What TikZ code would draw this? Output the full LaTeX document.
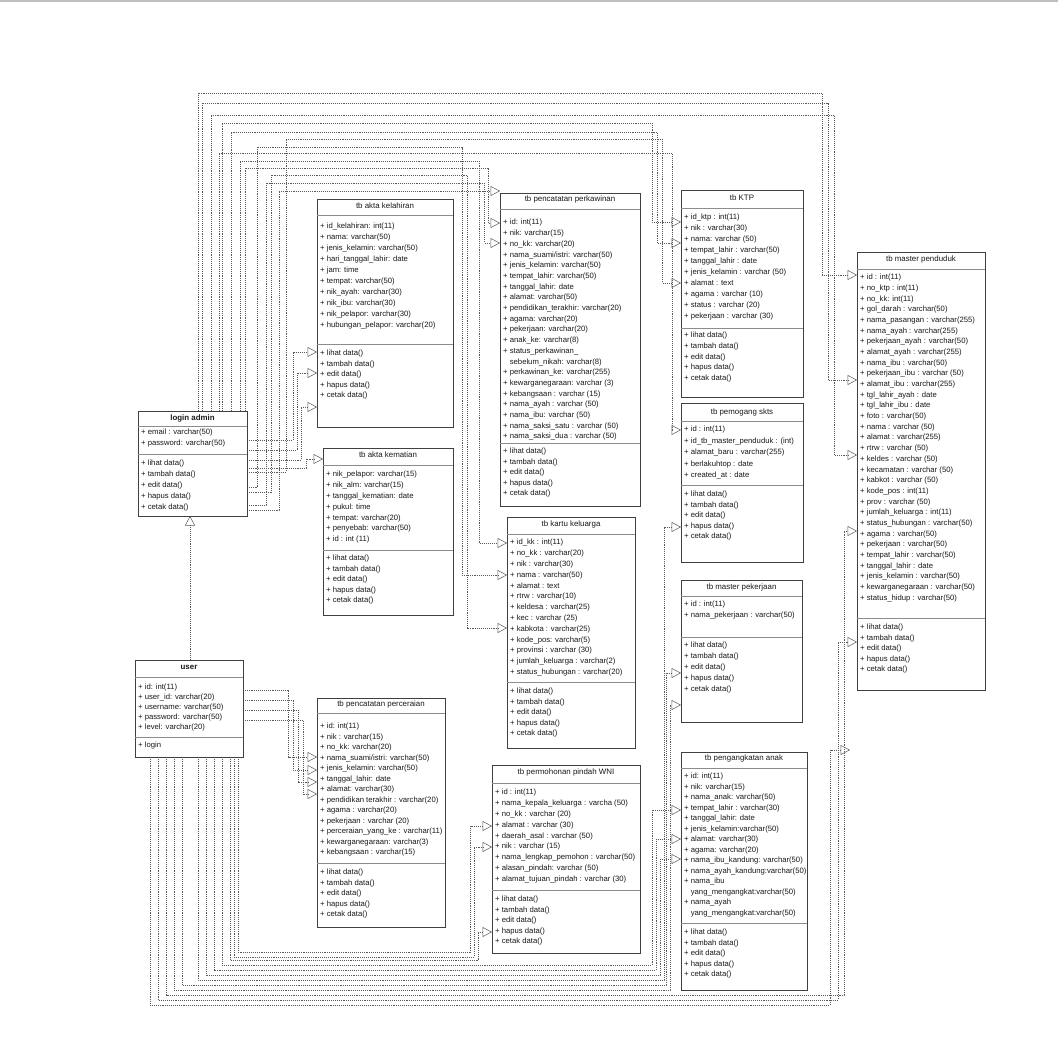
\documentclass[tikz,border=0pt]{standalone}
\usepackage{fontspec}
\setmainfont{Liberation Sans}
\usetikzlibrary{arrows.meta,backgrounds}
\tikzset{
 box/.style={draw=black!75, line width=0.9pt, fill=white, anchor=north west, inner sep=0pt, outer sep=0pt},
 sepl/.style={draw=black!45, line width=0.6pt},
 txt/.style={font=\fontsize{7.7}{9}\selectfont, anchor=west, inner sep=0pt, text height=5.5pt, text depth=1.6pt, text=black!90},
 ttl/.style={font=\fontsize{7.9}{9}\selectfont, inner sep=0pt, text height=5.5pt, text depth=1.6pt, text=black!90},
 conn/.style={draw=black!65, line width=0.5pt, dash pattern=on 1.1pt off 1pt},
 tri/.style={-{Triangle[open,length=9.5pt,width=10pt]}}
}
\newcommand\cls[9]{%
 \node[box, minimum width={(#4-#2)*1pt}, minimum height={(#5-#3)*1pt}] (#1) at (#2,#3) {};
 \node[ttl] at ({(#2+#4)/2},#7) {#6};
 \draw[sepl] (#2,#8) -- (#4,#8);
 \draw[sepl] (#2,#9) -- (#4,#9);}
\newcommand\rows[4]{\foreach \t [count=\i from 0] in {#4} {\node[txt] at (#1,{#2+\i*#3}) {\t};}}
\newcommand\meths[3]{\rows{#1}{#2}{#3}{+ lihat data(), + tambah data(), + edit data(), + hapus data(), + cetak data()}}
\begin{document}
\begin{tikzpicture}[x=1pt,y=-1pt]
\useasboundingbox (0,0) rectangle (1058,1056);
\draw[black!25, line width=1.5pt] (0,1) -- (1058,1);

% ---------- classes ----------
\cls{akl}{317}{199}{453}{427}{tb akta kelahiran}{207}{215}{344}
\rows{320}{227}{10.9}{+ id\_kelahiran: int(11), + nama: varchar(50), + jenis\_kelamin: varchar(50), + hari\_tanggal\_lahir: date, + jam: time, + tempat: varchar(50), + nik\_ayah: varchar(30), + nik\_ibu: varchar(30), + nik\_pelapor: varchar(30), + hubungan\_pelapor: varchar(20)}
\meths{320}{354}{10.5}

\cls{pkw}{500}{193}{640}{506}{tb pencatatan perkawinan}{200}{209}{443}
\rows{503}{223}{10.7}{+ id: int(11), + nik: varchar(15), + no\_kk: varchar(20), + nama\_suami/istri: varchar(50), + jenis\_kelamin: varchar(50), + tempat\_lahir: varchar(50), + tanggal\_lahir: date, + alamat: varchar(50), + pendidikan\_terakhir: varchar(20), + agama: varchar(20), + pekerjaan: varchar(20), + anak\_ke: varchar(8), + status\_perkawinan\_, \phantom{+ }sebelum\_nikah: varchar(8), + perkawinan\_ke: varchar(255), + kewarganegaraan: varchar (3), + kebangsaan : varchar (15), + nama\_ayah : varchar (50), + nama\_ibu: varchar (50), + nama\_saksi\_satu : varchar (50), + nama\_saksi\_dua : varchar (50)}
\meths{503}{452}{10.5}

\cls{ktp}{681}{190}{803}{397}{tb KTP}{199}{208}{328}
\rows{684}{218}{11}{+ id\_ktp : int(11), + nik : varchar(30), + nama: varchar (50), + tempat\_lahir : varchar(50), + tanggal\_lahir : date, + jenis\_kelamin : varchar (50), + alamat : text, + agama : varchar (10), + status : varchar (20), + pekerjaan : varchar (30)}
\meths{684}{336}{10.6}

\cls{skts}{681}{403}{803}{562}{tb pemogang skts}{413}{421}{485}
\rows{684}{430}{11.5}{+ id : int(11), + id\_tb\_master\_penduduk : (int), + alamat\_baru : varchar(255), + berlakuhtop : date, + created\_at : date}
\meths{684}{495}{10.5}

\cls{mpk}{681}{580}{802}{722}{tb master pekerjaan}{588}{596}{637}
\rows{684}{605}{10.5}{+ id : int(11), + nama\_pekerjaan : varchar(50)}
\meths{684}{646}{11}

\cls{mpd}{857}{252}{985}{690}{tb master penduduk}{260}{269}{618}
\rows{860}{278}{10.67}{+ id : int(11), + no\_ktp : int(11), + no\_kk: int(11), + gol\_darah : varchar(50), + nama\_pasangan : varchar(255), + nama\_ayah : varchar(255), + pekerjaan\_ayah : varchar(50), + alamat\_ayah : varchar(255), + nama\_ibu : varchar(50), + pekerjaan\_ibu : varchar (50), + alamat\_ibu : varchar(255), + tgl\_lahir\_ayah : date, + tgl\_lahir\_ibu : date, + foto : varchar(50), + nama : varchar (50), + alamat : varchar(255), + rtrw : varchar (50), + keldes : varchar (50), + kecamatan : varchar (50), + kabkot : varchar (50), + kode\_pos : int(11), + prov : varchar (50), + jumlah\_keluarga : int(11), + status\_hubungan : varchar(50), + agama : varchar(50), + pekerjaan : varchar(50), + tempat\_lahir : varchar(50), + tanggal\_lahir : date, + jenis\_kelamin : varchar(50), + kewarganegaraan : varchar(50), + status\_hidup : varchar(50)}
\meths{860}{628}{10.5}

\cls{la}{138}{411}{247}{516}{\bfseries login admin}{419}{426}{454}
\rows{141}{433}{10.5}{+ email : varchar(50), + password: varchar(50)}
\meths{141}{464}{10.8}

\cls{us}{135}{660}{243}{757}{\bfseries user}{668}{677}{737}
\rows{138}{688}{10}{+ id: int(11), + user\_id: varchar(20), + username: varchar(50), + password: varchar(50), + level: varchar(20)}
\rows{138}{746}{10}{+ login}

\cls{akm}{323}{448}{453}{615}{tb akta kematian}{456}{465}{550}
\rows{326}{475}{10.8}{+ nik\_pelapor: varchar(15), + nik\_alm: varchar(15), + tanggal\_kematian: date, + pukul: time, + tempat: varchar(20), + penyebab: varchar(50), + id : int (11)}
\meths{326}{559}{10.5}

\cls{kk}{507}{517}{635}{748}{tb kartu keluarga}{525}{534}{682}
\rows{510}{543}{10.8}{+ id\_kk : int(11), + no\_kk : varchar(20), + nik : varchar(30), + nama : varchar(50), + alamat : text, + rtrw : varchar(10), + keldesa : varchar(25), + kec : varchar (25), + kabkota : varchar(25), + kode\_pos: varchar(5), + provinsi : varchar (30), + jumlah\_keluarga : varchar(2), + status\_hubungan : varchar(20)}
\meths{510}{692}{10.5}

\cls{pcr}{317}{698}{445}{927}{tb pencatatan perceraian}{705}{713}{863}
\rows{320}{727}{10.5}{+ id: int(11), + nik : varchar(15), + no\_kk: varchar(20), + nama\_suami/istri: varchar(50), + jenis\_kelamin: varchar(50), + tanggal\_lahir: date, + alamat: varchar(30), + pendidikan terakhir : varchar(20), + agama : varchar(20), + pekerjaan : varchar (20), + perceraian\_yang\_ke : varchar(11), + kewarganegaraan: varchar(3), + kebangsaan : varchar(15)}
\meths{320}{873}{10.5}

\cls{pwni}{492}{765}{640}{953}{tb permohonan pindah WNI}{773}{783}{890}
\rows{495}{793}{10.8}{+ id : int(11), + nama\_kepala\_keluarga : varcha (50), + no\_kk : varchar (20), + alamat : varchar (30), + daerah\_asal : varchar (50), + nik : varchar (15), + nama\_lengkap\_pemohon : varchar(50), + alasan\_pindah: varchar (50), + alamat\_tujuan\_pindah : varchar (30)}
\meths{495}{900}{10.5}

\cls{pga}{681}{752}{807}{990}{tb pengangkatan anak}{759}{768}{923}
\rows{684}{777}{10.5}{+ id: int(11), + nik: varchar(15), + nama\_anak: varchar(50), + tempat\_lahir : varchar(30), + tanggal\_lahir: date, + jenis\_kelamin:varchar(50), + alamat: varchar(30), + agama: varchar(20), + nama\_ibu\_kandung: varchar(50), + nama\_ayah\_kandung:varchar(50), + nama\_ibu, \phantom{+ }yang\_mengangkat:varchar(50), + nama\_ayah, \phantom{+ }yang\_mengangkat:varchar(50)}
\meths{684}{933}{10.5}

% ---------- arrow end points ----------
\coordinate (pkw1) at ([yshift=2pt]pkw.north west);
\coordinate (pkw2) at ([yshift=-30pt]pkw.north west);
\coordinate (pkw3) at ([yshift=-50pt]pkw.north west);
\coordinate (akl1) at ([yshift=-153pt]akl.north west);
\coordinate (akl2) at ([yshift=-174pt]akl.north west);
\coordinate (akl3) at ([yshift=-208pt]akl.north west);
\coordinate (akm1) at ([yshift=-11pt]akm.north west);
\coordinate (ktp1) at ([yshift=-32pt]ktp.north west);
\coordinate (ktp2) at ([yshift=-53pt]ktp.north west);
\coordinate (ktp3) at ([yshift=-93pt]ktp.north west);
\coordinate (skts1) at ([yshift=-27pt]skts.north west);
\coordinate (skts2) at ([yshift=-124pt]skts.north west);
\coordinate (mpk1) at ([yshift=-93pt]mpk.north west);
\coordinate (mpk2) at ([yshift=-125pt]mpk.north west);
\coordinate (mpd1) at ([yshift=-23pt]mpd.north west);
\coordinate (mpd2) at ([yshift=-128pt]mpd.north west);
\coordinate (mpd3) at ([yshift=-203pt]mpd.north west);
\coordinate (mpd4) at ([yshift=-279pt]mpd.north west);
\coordinate (mpd5) at ([yshift=-390pt]mpd.north west);
\coordinate (kk1) at ([yshift=-26pt]kk.north west);
\coordinate (kk2) at ([yshift=-58pt]kk.north west);
\coordinate (kk3) at ([yshift=-111pt]kk.north west);
\coordinate (pcr1) at ([yshift=-59pt]pcr.north west);
\coordinate (pcr2) at ([yshift=-72pt]pcr.north west);
\coordinate (pcr3) at ([yshift=-84pt]pcr.north west);
\coordinate (pcr4) at ([yshift=-96pt]pcr.north west);
\coordinate (pwni1) at ([yshift=-61pt]pwni.north west);
\coordinate (pwni2) at ([yshift=-82pt]pwni.north west);
\coordinate (pwni3) at ([yshift=-167pt]pwni.north west);
\coordinate (pga1) at ([yshift=-58pt]pga.north west);
\coordinate (pga2) at ([yshift=-87pt]pga.north west);
\coordinate (pga3) at ([yshift=-107pt]pga.north west);
\coordinate (free) at (850,750);

% ---------- connectors ----------
\begin{scope}[on background layer]
\fill[white] (0,3) rectangle (1058,1056);
% from login admin, top
\draw[conn,tri] ([xshift=60pt]la.north west) |- (822,93) |- (mpd1);
\draw[conn,tri] ([xshift=64pt]la.north west) |- (828,103) |- (mpd2);
\draw[conn,tri] ([xshift=73pt]la.north west) |- (834,115) |- (mpd3);
\draw[conn,tri] ([xshift=84pt]la.north west) |- (652,123) |- (ktp1);
\draw[conn,tri] ([xshift=93pt]la.north west) |- (657,132) |- (ktp2);
\draw[conn,tri] ([xshift=81pt]la.north west) |- (672,153) |- (skts1);
\draw[conn,tri] ([xshift=102pt]la.north west) |- (479,161) |- (kk1);
\draw[conn,tri] ([xshift=107pt]la.north west) |- (488,168) |- (pkw2);
% from login admin, right side
\draw[conn,tri] ([yshift=-61pt]la.north east) -| (286,139) -- (662,139) |- (ktp3);
\draw[conn,tri] ([yshift=-76pt]la.north east) -| (257,147) -- (462,147) |- (kk2);
\draw[conn,tri] ([yshift=-81pt]la.north east) -| (271,175) -- (467,175) |- (kk3);
\draw[conn,tri] ([yshift=-94pt]la.north east) -| (266,183) -- (484,183) |- (pkw3);
\draw[conn,tri] ([yshift=-99pt]la.north east) -| (279,191) -- (pkw1);
\draw[conn,tri] ([yshift=-29pt]la.north east) -| (293,352) -- (akl1);
\draw[conn,tri] ([yshift=-39pt]la.north east) -| (297,373) -- (akl2);
\draw[conn,tri] ([yshift=-49pt]la.north east) -| (301,407) -- (akl3);
\draw[conn,tri] ([yshift=-57pt]la.north east) -| (306,459) -- (akm1);
% from user, right side
\draw[conn,tri] ([yshift=-30pt]us.north east) -| (288,757) -- (pcr1);
\draw[conn,tri] ([yshift=-40pt]us.north east) -| (293,770) -- (pcr2);
\draw[conn,tri] ([yshift=-50pt]us.north east) -| (298,782) -- (pcr3);
\draw[conn,tri] ([yshift=-60pt]us.north east) -| (303,794) -- (pcr4);
% from user, bottom
\draw[conn,tri] ([xshift=15pt]us.south west) |- (830,1005) |- (free);
\draw[conn,tri] ([xshift=23pt]us.south west) |- (838,1000) |- (mpd5);
\draw[conn,tri] ([xshift=31pt]us.south west) |- (844,995) |- (mpd4);
\draw[conn,tri] ([xshift=39pt]us.south west) |- (670,990) |- (mpk2);
\draw[conn,tri] ([xshift=47pt]us.south west) |- (666,985) |- (mpk1);
\draw[conn,tri] ([xshift=63pt]us.south west) |- (664,980) |- (skts2);
\draw[conn,tri] ([xshift=71pt]us.south west) |- (660,975) |- (pga3);
\draw[conn,tri] ([xshift=79pt]us.south west) |- (656,970) |- (pga2);
\draw[conn,tri] ([xshift=87pt]us.south west) |- (652,965) |- (pga1);
\draw[conn,tri] ([xshift=95pt]us.south west) |- (478,960) |- (pwni3);
\draw[conn,tri] ([xshift=99pt]us.south west) |- (474,957) |- (pwni2);
\draw[conn,tri] ([xshift=103pt]us.south west) |- (470,952) |- (pwni1);
% generalization user -> login admin
\draw[conn,tri] ([xshift=55pt]us.north west) -- ([xshift=52pt]la.south west);
\end{scope}
\end{tikzpicture}
\end{document}
